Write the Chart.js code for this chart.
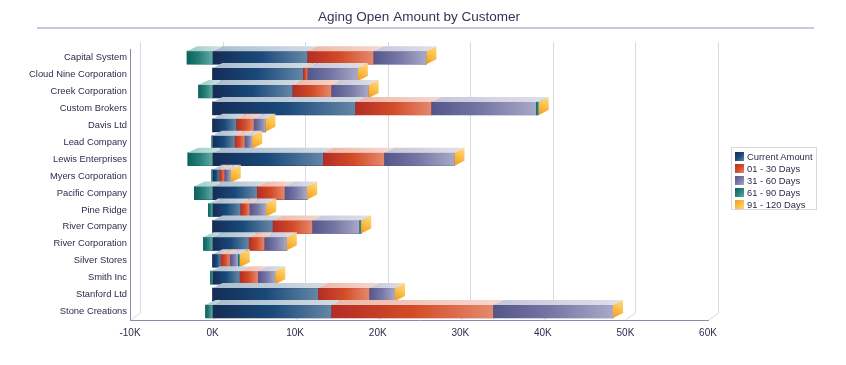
<!DOCTYPE html>
<html>
<head>
<meta charset="utf-8">
<script src="https://cdn.jsdelivr.net/npm/chart.js@4.4.1/dist/chart.umd.min.js"></script>
<style>
  body { margin: 0; background: #ffffff; }
  #wrap { position: relative; width: 846px; height: 365px; }
  #legend {
    position: absolute; left: 731px; top: 147px; width: 86px; height: 63px;
    border: 1px solid #d6d6e4; box-sizing: border-box; padding-top: 2px;
    font: 9.4px "Liberation Sans", Arial, sans-serif; color: #2c2c4c;
  }
  #legend .row { height: 12.2px; display: flex; align-items: center; padding-left: 3px; }
  #legend .sw { width: 9px; height: 9px; margin-right: 3px; flex: none; }
</style>
</head>
<body>
<div id="wrap">
  <canvas id="aging" width="846" height="365"></canvas>
  <div id="legend"></div>
</div>
<script>
// du lieu doc tu hinh (don vi: $)
const customers = ['Capital System', 'Cloud Nine Corporation', 'Creek Corporation', 'Custom Brokers',
  'Davis Ltd', 'Lead Company', 'Lewis Enterprises', 'Myers Corporation', 'Pacific Company',
  'Pine Ridge', 'River Company', 'River Corporation', 'Silver Stores', 'Smith Inc',
  'Stanford Ltd', 'Stone Creations'];
const seriesNames = ['Current Amount', '01 - 30 Days', '31 - 60 Days', '61 - 90 Days', '91 - 120 Days'];
const currentAmount = [11500, 11000, 9700, 17300, 2900, 2700, 13400, 850, 5400, 3400, 7300, 4400, 1000, 3300, 12800, 14400];
const days01to30 = [8000, 500, 4700, 9200, 2100, 1200, 7400, 600, 3350, 1100, 4800, 1900, 1100, 2200, 6200, 19600];
const days31to60 = [6400, 6100, 4500, 12700, 1400, 900, 8500, 750, 2700, 2000, 5700, 2700, 1000, 2100, 3100, 14500];
const days61to90 = [-3100, 0, -1700, 300, 0, -100, -3000, -100, -2200, -500, 200, -1100, 200, -250, 0, -850];
const days91to120 = [0, 0, 0, 0, 0, 0, 0, 0, 0, 0, 0, 0, 0, 0, 0, 0];
const xTicks = [-10000, 0, 10000, 20000, 30000, 40000, 50000, 60000];

// mau sac cho tung nhom
const shades = [
  { front: ['#152c56', '#19497a', '#6687a6'], top: ['#a9bccd', '#d3dce4'] },
  { front: ['#b22d26', '#d34c27', '#e5896e'], top: ['#eeb6a6', '#f6d8cf'] },
  { front: ['#54568a', '#7878a6', '#a9a9c8'], top: ['#c6c6da', '#e0e0ea'] },
  { front: ['#0a625d', '#2a807a', '#62aaa3'], top: ['#9cc9c4', '#cfe4e1'] },
  { front: ['#f39a1c', '#fbbd45', '#ffd678'], top: ['#fcd890', '#ffe9b8'] }
];
const seriesData = [currentAmount, days01to30, days31to60, days61to90, days91to120];

const depth = { dx: 10, dy: 5, gdx: 10, gdy: 7 };

function grad(ctx, x0, y0, x1, y1, stops) {
  const g = ctx.createLinearGradient(x0, y0, x1, y1);
  stops.forEach((c, k) => g.addColorStop(k / (stops.length - 1), c));
  return g;
}

// vach luoi phia sau + duong ke duoi tieu de
const backWall = {
  id: 'backWall',
  beforeDatasetsDraw(chart) {
    const ctx = chart.ctx;
    const area = chart.chartArea;
    const xs = chart.scales.x;
    ctx.save();
    ctx.strokeStyle = '#c9c9dd';
    ctx.lineWidth = 2;
    ctx.beginPath();
    ctx.moveTo(37, 28);
    ctx.lineTo(814, 28);
    ctx.stroke();
    ctx.strokeStyle = '#d8d8e6';
    ctx.lineWidth = 1;
    xs.ticks.forEach(t => {
      const x = Math.round(xs.getPixelForValue(t.value)) + 0.5;
      ctx.beginPath();
      ctx.moveTo(x + depth.gdx, area.top - depth.gdy);
      ctx.lineTo(x + depth.gdx, area.bottom - depth.gdy);
      ctx.lineTo(x, area.bottom);
      ctx.stroke();
    });
    ctx.restore();
  }
};

// ve mat truoc, mat tren, mat ben cua thanh
const faces3d = {
  id: 'faces3d',
  afterDatasetsDraw(chart) {
    const ctx = chart.ctx;
    const metas = chart.getSortedVisibleDatasetMetas();
    ctx.save();
    chart.data.labels.forEach((lab, i) => {
      let right = -Infinity, top = 0, bottom = 0;
      metas.forEach(meta => {
        const p = meta.data[i].getProps(['x', 'y', 'base', 'height'], true);
        const l = Math.min(p.x, p.base), r = Math.max(p.x, p.base);
        top = p.y - p.height / 2;
        bottom = p.y + p.height / 2;
        right = Math.max(right, r);
        if (r - l < 0.4) return;
        const c = shades[meta.index];
        ctx.fillStyle = grad(ctx, l, 0, r, 0, c.front);
        ctx.fillRect(l, top, r - l, bottom - top);
        ctx.fillStyle = grad(ctx, l, 0, r + depth.dx, 0, c.top);
        ctx.beginPath();
        ctx.moveTo(l, top);
        ctx.lineTo(l + depth.dx, top - depth.dy);
        ctx.lineTo(r + depth.dx, top - depth.dy);
        ctx.lineTo(r, top);
        ctx.closePath();
        ctx.fill();
      });
      ctx.fillStyle = grad(ctx, right, bottom, right + depth.dx, top - depth.dy, ['#f29a1a', '#fbbf48', '#ffdc86']);
      ctx.beginPath();
      ctx.moveTo(right, top);
      ctx.lineTo(right + depth.dx, top - depth.dy);
      ctx.lineTo(right + depth.dx, bottom - depth.dy);
      ctx.lineTo(right, bottom);
      ctx.closePath();
      ctx.fill();
    });
    ctx.restore();
  }
};

const textColor = '#2c2c4c';

const config = {
  type: 'bar',
  data: {
    labels: customers,
    datasets: seriesNames.map((name, k) => ({
      label: name,
      data: seriesData[k],
      backgroundColor: shades[k].front[0],
      barThickness: 13
    }))
  },
  options: {
    responsive: false,
    animation: false,
    indexAxis: 'y',
    layout: { padding: { left: 0, right: 138, top: 0, bottom: 0 } },
    plugins: {
      legend: { display: false },
      tooltip: { enabled: false },
      title: {
        display: true,
        fullSize: false,
        text: 'Aging Open Amount by Customer',
        color: '#333355',
        font: { family: '"Liberation Sans", Arial, sans-serif', size: 13.5, weight: 'normal' },
        padding: { top: 9, bottom: 24 }
      }
    },
    scales: {
      x: {
        stacked: true,
        min: -10000,
        max: 60000,
        afterBuildTicks: scale => { scale.ticks = xTicks.map(v => ({ value: v })); },
        afterFit: scale => { scale.height = 45; },
        grid: { display: false, drawTicks: false },
        border: { color: '#8a8aa8' },
        ticks: {
          color: textColor,
          padding: 7,
          font: { family: '"Liberation Sans", Arial, sans-serif', size: 10 },
          callback: v => (v / 1000) + 'K'
        }
      },
      y: {
        stacked: true,
        afterFit: scale => { scale.width = 130; },
        grid: { display: false, drawTicks: false },
        border: { color: '#8a8aa8' },
        ticks: {
          color: textColor,
          padding: 3,
          font: { family: '"Liberation Sans", Arial, sans-serif', size: 9.4 }
        }
      }
    }
  },
  plugins: [backWall, faces3d]
};

const agingChart = new Chart(document.getElementById('aging'), config);

// chu giai
const legendBox = document.getElementById('legend');
seriesNames.forEach((name, k) => {
  const row = document.createElement('div');
  row.className = 'row';
  const sw = document.createElement('span');
  sw.className = 'sw';
  sw.style.background = 'linear-gradient(135deg,' + shades[k].front.join(',') + ')';
  row.appendChild(sw);
  row.appendChild(document.createTextNode(name));
  legendBox.appendChild(row);
});
</script>
</body>
</html>
